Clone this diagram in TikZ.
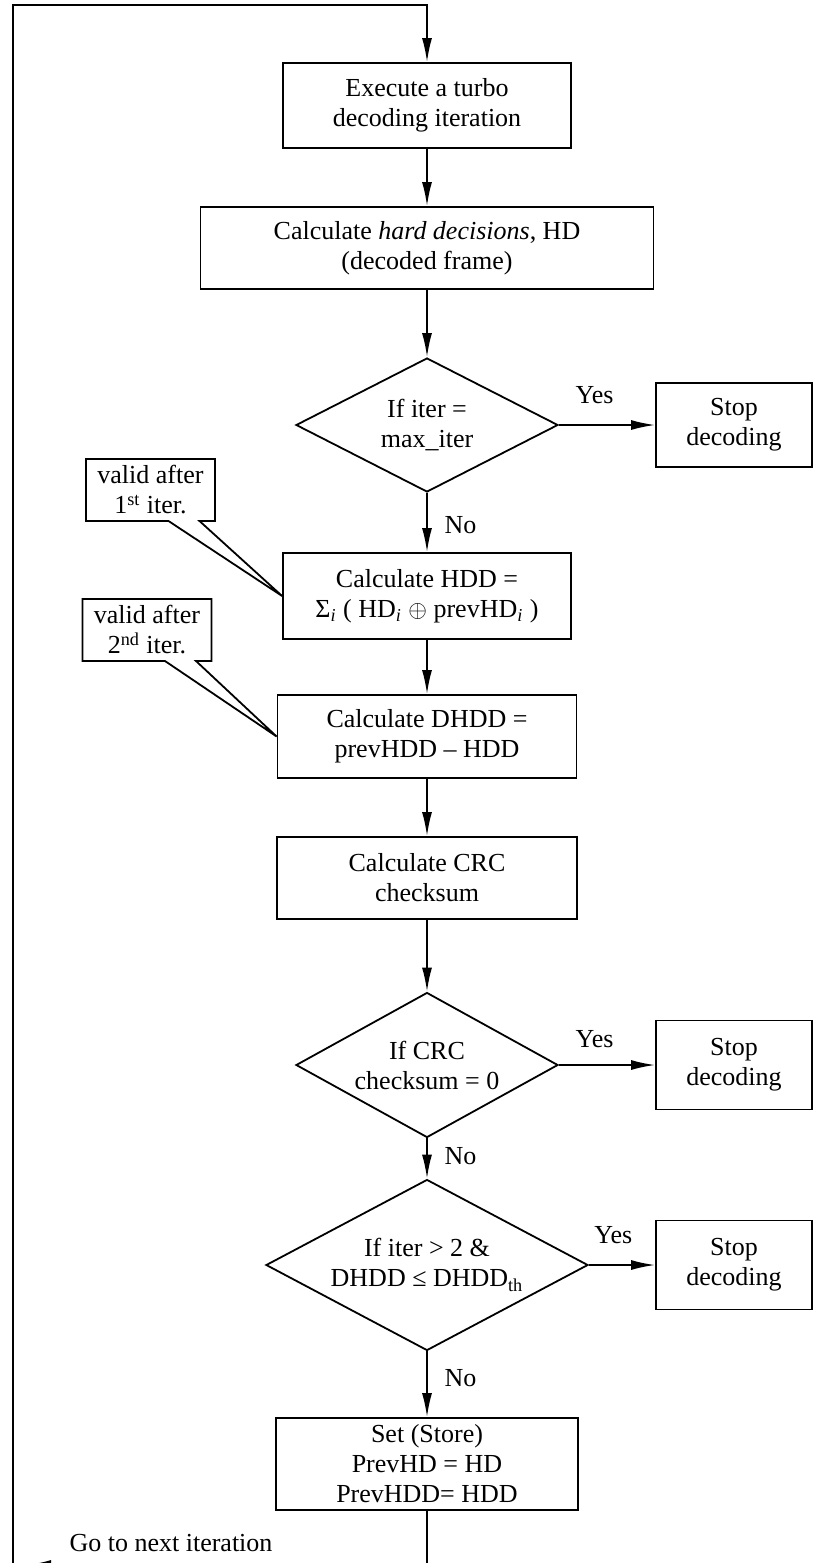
\documentclass[tikz,border=0pt]{standalone}
\usepackage{fontspec}
\setmainfont{Liberation Serif}
\usetikzlibrary{shapes.geometric,shapes.callouts,arrows.meta}

\begin{document}
\begin{tikzpicture}[x=0.5pt, y=-0.5pt, >={Latex[length=12pt,width=5pt]}, line width=0.9pt,
    every node/.style={font=\fontsize{13}{15}\selectfont}]
    % Define block styles
    \tikzstyle{block} = [draw, rectangle, align=center, minimum width=144pt, minimum height=42.5pt, inner sep=0pt]
    \tikzstyle{decision} = [draw, diamond, align=center, aspect=2, inner sep=0pt]
    \tikzstyle{stopbox} = [draw, rectangle, align=center, minimum width=78pt, minimum height=42pt, inner sep=0pt]
    \tikzstyle{note} = [draw, fill=white, rectangle callout, align=center, minimum width=64.5pt, minimum height=31pt, inner sep=1pt, callout pointer width=15.5pt]

    \useasboundingbox (0,0) rectangle (814,1563);

    % Nodes
    \node [block] (exec) at (427,105.5) {Execute a turbo\\decoding iteration};
    \node [block, below of=exec, node distance=71.25pt, minimum width=226.5pt, minimum height=41pt] (hd) {Calculate \textit{hard decisions}, HD\\(decoded frame)};
    \node [decision, below of=hd, node distance=88.5pt, minimum width=131pt, minimum height=67pt] (iter) {If iter =\\max\_iter};
    \node [stopbox, right of=iter, node distance=153.5pt] (stop1) {Stop\\decoding};
    \node [block, below of=iter, node distance=85.5pt, minimum height=43pt] (hdd) {Calculate HDD =\\Σ\textsubscript{\textit{i}} ( HD\textsubscript{\textit{i}} $\oplus$ prevHD\textsubscript{\textit{i}} )};
    \node [block, below of=hdd, node distance=70.25pt, minimum width=149.5pt, minimum height=41.5pt] (dhdd) {Calculate DHDD =\\prevHDD – HDD};
    \node [block, below of=dhdd, node distance=70.75pt, minimum width=150pt, minimum height=41pt] (crc) {Calculate CRC\\checksum};
    \node [decision, below of=crc, node distance=93.5pt, minimum width=131pt, minimum height=72.5pt] (crcq) {If CRC\\checksum = 0};
    \node [stopbox, right of=crcq, node distance=153.5pt, minimum height=44.5pt] (stop2) {Stop\\decoding};
    \node [decision, below of=crcq, node distance=100pt, minimum width=161pt, minimum height=85.5pt] (thq) {If iter > 2 \&\\DHDD ≤ DHDD\textsubscript{th}};
    \node [stopbox, right of=thq, node distance=153.5pt, minimum height=44.5pt] (stop3) {Stop\\decoding};
    \node [block, below of=thq, node distance=99.5pt, minimum width=151pt, minimum height=46pt] (set) {Set (Store)\\PrevHD = HD\\PrevHDD= HDD};
    \node [note, callout absolute pointer={(hdd.west)}] (note1) at (150.5,490) {valid after\\1\textsuperscript{st} iter.};
    \node [note, callout absolute pointer={(dhdd.west)}] (note2) at (147,630) {valid after\\2\textsuperscript{nd} iter.};
    \coordinate (ret) at (27,1565);
    \coordinate (lb) at (13,1570);
    \coordinate (lt) at (13,5);

    % Connections
    \draw [->] (exec) -- (hd);
    \draw [->] (hd) -- (iter);
    \draw [->] (iter) -- node [pos=0.37, above=7pt] {Yes} (stop1);
    \draw [->] (iter) -- node [pos=0.54, right=5pt] {No} (hdd);
    \draw [->] (hdd) -- (dhdd);
    \draw [->] (dhdd) -- (crc);
    \draw [->] (crc) -- (crcq);
    \draw [->] (crcq) -- node [pos=0.37, above=5pt] {Yes} (stop2);
    \draw [->] (crcq) -- node [pos=0.45, right=5pt] {No} (thq);
    \draw [->] (thq) -- node [pos=0.37, above=7pt] {Yes} (stop3);
    \draw [->] (thq) -- node [pos=0.4, right=5pt] {No} (set);
    \draw [->] (set) |- node [pos=0.82, above=3pt] {Go to next iteration} (ret);
    \draw [->] (lb) -- (lt) -| (exec);
\end{tikzpicture}
\end{document}
